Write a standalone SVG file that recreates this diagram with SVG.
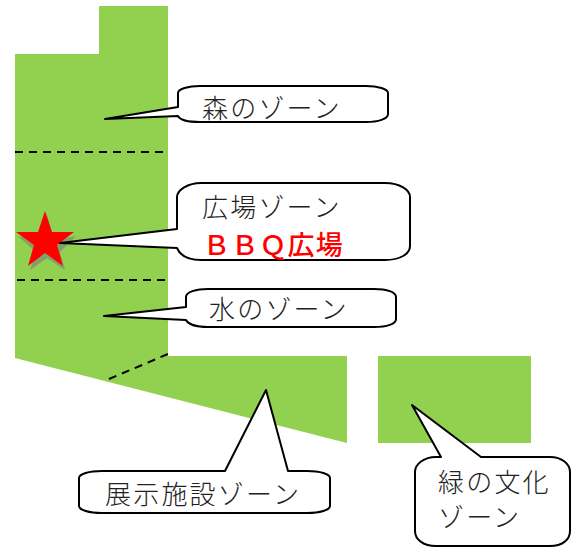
<svg xmlns="http://www.w3.org/2000/svg" width="573" height="547" viewBox="0 0 573 547">
<style>
.zone{fill:#92d050}
.dash{fill:none;stroke:#000;stroke-width:2;stroke-dasharray:8 6}
.call{fill:#fff;stroke:#000;stroke-width:2;stroke-linejoin:round}
text{font-family:"Noto Sans CJK JP",sans-serif;font-weight:300;font-size:26px;letter-spacing:2.2px;fill:#222}
.red{fill:#f00;font-weight:500;font-size:27px;letter-spacing:1.2px}
</style>
<rect width="573" height="547" fill="#fff"/>
<g id="site">
<polygon class="zone" points="99,6 168,6 168,356 347,356 347,443 15,358 15,54 99,54"/>
<rect class="zone" x="378" y="356" width="153" height="87"/>
</g>
<g id="connectors">
<path class="dash" d="M15 152H165"/>
<path class="dash" d="M17 280H165"/>
<path class="dash" d="M109 379L168 354"/>
</g>
<g id="star">
<polygon fill="#7f8f70" opacity=".75" points="47,215 54,240 76,236 60,252 65,270 47,258 30,270 36,252 18,236 40,240"/>
<polygon fill="#f00" points="45,211 52,232 74,232 57,245 63,266 45,253 28,266 34,245 16,232 38,232"/>
</g>
<g id="zone-forest">
<path class="call" d="M200 86H366C378 86 388 89 388 93V114C388 119 378 122 366 122H200C188 122 180 120 178 116L105 119L178 107V93C178 89 188 86 200 86Z"/>
<text x="202" y="118">森のゾーン</text>
</g>
<g id="zone-plaza">
<path class="call" d="M201 183H385C400 183 410 190 410 197V246C410 254 400 260 385 260H201C188 260 180 255 177 248L60 243L177 229V197C177 190 188 183 201 183Z"/>
<text x="202" y="217">広場ゾーン</text>
<text class="red" x="203" y="255">ＢＢＱ広場</text>
</g>
<g id="zone-water">
<path class="call" d="M208 289H374C387 289 396 292 396 297V319C396 324 387 327 374 327H208C196 327 188 324 186 320L104 316L186 307V297C186 292 196 289 208 289Z"/>
<text x="209" y="319">水のゾーン</text>
</g>
<g id="zone-exhibit">
<path class="call" d="M102 471H225L266 390L288 471H307C320 471 330 474 330 478V506C330 510 320 513 307 513H102C89 513 79 510 79 506V478C79 474 89 471 102 471Z"/>
<text x="105" y="504">展示施設ゾーン</text>
</g>
<g id="zone-culture">
<path class="call" d="M436 457H441L412 405L481 457H550C562 457 570 464 570 472V531C570 540 562 546 550 546H436C424 546 415 540 415 531V472C415 464 424 457 436 457Z"/>
<text x="438" y="492">緑の文化</text>
<text x="438" y="527">ゾーン</text>
</g>
</svg>
